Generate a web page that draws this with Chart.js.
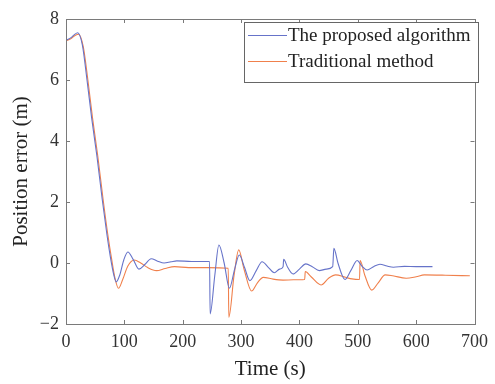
<!DOCTYPE html>
<html>
<head>
<meta charset="utf-8">
<script src="https://cdn.jsdelivr.net/npm/chart.js@4/dist/chart.umd.min.js"></script>
<style>
  body { margin: 0; background: #fff; }
</style>
</head>
<body>
<canvas id="errChart" width="495" height="384"></canvas>
<script>
// time samples (s) and position error (m)
const tProposed = [0, 8, 14, 20, 28, 36, 44, 53, 62, 70, 76, 82, 86, 92, 99, 106, 115, 125, 135, 146, 157, 168, 180, 190, 215, 246, 247, 255, 262, 271, 280, 289, 297, 306, 315, 326, 336, 347, 357, 366, 372, 373, 380, 389, 400, 411, 422, 434, 446, 457, 459, 466, 478, 488, 499, 507, 516, 527, 538, 550, 561, 580, 600, 628];
const yProposed = [7.3, 7.38, 7.48, 7.55, 7.15, 6.0, 4.75, 3.5, 2.1, 0.95, 0.2, -0.4, -0.62, -0.4, 0.1, 0.36, 0.12, -0.2, -0.05, 0.14, 0.06, 0.0, 0.04, 0.07, 0.05, 0.05, -1.67, -0.4, 0.59, 0.0, -0.83, -0.2, 0.26, -0.15, -0.58, -0.25, 0.04, -0.15, -0.32, -0.2, -0.12, 0.12, -0.15, -0.36, -0.2, -0.03, -0.12, -0.25, -0.2, -0.12, 0.48, 0.0, -0.54, -0.25, 0.08, -0.1, -0.23, -0.12, -0.04, -0.1, -0.14, -0.11, -0.12, -0.12];

const tTraditional = [0, 8, 15, 21.5, 29.5, 37.5, 45.5, 54.5, 63.5, 71.5, 78, 84, 90, 97, 106, 117, 128, 140, 155, 170, 186, 210, 242, 278, 279, 288, 296, 305, 318, 328, 338, 355, 372, 390, 409, 410, 420, 437, 450, 462, 479, 490, 503, 504, 512, 524, 535, 547, 560, 583, 600, 614, 650, 692];
const yTraditional = [7.28, 7.35, 7.45, 7.5, 7.1, 6.0, 4.75, 3.5, 2.1, 0.95, 0.15, -0.5, -0.83, -0.55, -0.1, 0.1, 0.0, -0.15, -0.25, -0.18, -0.12, -0.15, -0.15, -0.17, -1.78, -0.4, 0.43, -0.2, -0.92, -0.65, -0.47, -0.53, -0.56, -0.55, -0.54, -0.28, -0.45, -0.72, -0.5, -0.39, -0.47, -0.52, -0.54, 0.08, -0.4, -0.89, -0.65, -0.39, -0.42, -0.5, -0.45, -0.39, -0.4, -0.42];

const xTicks = [0, 100, 200, 300, 400, 500, 600, 700];
const yTicks = [-2, 0, 2, 4, 6, 8];

const seriesNames = ['The proposed algorithm', 'Traditional method'];
const seriesColors = ['#6673c9', '#f0804c'];

const serif = "'Liberation Serif', 'DejaVu Serif', serif";
const axisColor = '#7a7a7a';

const toPoints = (ts, ys) => ts.map((t, i) => ({ x: t, y: ys[i] }));

// box around the axes with inward ticks, matlab style
const framePlugin = {
    id: 'frame',
    afterDatasetsDraw(chart) {
        const { ctx, chartArea: a, scales } = chart;
        ctx.save();
        ctx.strokeStyle = axisColor;
        ctx.lineWidth = 1;
        ctx.strokeRect(Math.round(a.left) + 0.5, Math.round(a.top) + 0.5,
            Math.round(a.right - a.left), Math.round(a.bottom - a.top));
        ctx.beginPath();
        xTicks.forEach(v => {
            const px = Math.round(scales.x.getPixelForValue(v)) + 0.5;
            ctx.moveTo(px, a.bottom); ctx.lineTo(px, a.bottom - 4);
            ctx.moveTo(px, a.top); ctx.lineTo(px, a.top + 4);
        });
        yTicks.forEach(v => {
            const py = Math.round(scales.y.getPixelForValue(v)) + 0.5;
            ctx.moveTo(a.left, py); ctx.lineTo(a.left + 4, py);
            ctx.moveTo(a.right, py); ctx.lineTo(a.right - 4, py);
        });
        ctx.stroke();

        // legend in the upper right corner
        const bx = 244, by = 22, bw = 234, bh = 60;
        ctx.fillStyle = '#fff';
        ctx.fillRect(bx, by, bw, bh);
        ctx.strokeStyle = '#666';
        ctx.strokeRect(bx + 0.5, by + 0.5, bw, bh);
        ctx.font = '19px ' + serif;
        ctx.textBaseline = 'middle';
        ctx.fillStyle = '#222';
        chart.data.datasets.forEach((ds, i) => {
            const ly = by + 13 + i * 26;
            ctx.strokeStyle = ds.borderColor;
            ctx.beginPath();
            ctx.moveTo(bx + 4, ly + 0.5); ctx.lineTo(bx + 43, ly + 0.5);
            ctx.stroke();
            ctx.fillText(ds.label, bx + 44, ly + 1);
        });
        ctx.restore();
    }
};

new Chart(document.getElementById('errChart'), {
    type: 'line',
    data: {
        datasets: [
            {
                label: seriesNames[0],
                data: toPoints(tProposed, yProposed),
                borderColor: seriesColors[0],
                borderWidth: 1.1,
                pointRadius: 0,
                cubicInterpolationMode: 'monotone'
            },
            {
                label: seriesNames[1],
                data: toPoints(tTraditional, yTraditional),
                borderColor: seriesColors[1],
                borderWidth: 1.1,
                pointRadius: 0,
                cubicInterpolationMode: 'monotone'
            }
        ]
    },
    options: {
        responsive: false,
        animation: false,
        layout: { padding: { top: 19, right: 15, left: 0, bottom: 0 } },
        plugins: {
            legend: { display: false },
            tooltip: { enabled: false }
        },
        scales: {
            x: {
                type: 'linear',
                min: 0,
                max: 700,
                afterFit: s => { s.height = 60; },
                afterBuildTicks: s => { s.ticks = xTicks.map(v => ({ value: v })); },
                grid: { display: false, drawTicks: false },
                border: { display: false },
                ticks: { color: '#333', padding: 7, maxRotation: 0, font: { family: serif, size: 18 } },
                title: {
                    display: true,
                    text: 'Time (s)',
                    color: '#222',
                    font: { family: serif, size: 21, lineHeight: 1.2 },
                    padding: { top: 0, bottom: 2 }
                }
            },
            y: {
                min: -2,
                max: 8,
                afterFit: s => { s.width = 66; },
                afterBuildTicks: s => { s.ticks = yTicks.map(v => ({ value: v })); },
                grid: { display: false, drawTicks: false },
                border: { display: false },
                ticks: {
                    color: '#333',
                    padding: 7,
                    font: { family: serif, size: 18 },
                    callback: v => v < 0 ? '\u2212' + Math.abs(v) : String(v)
                },
                title: {
                    display: true,
                    text: 'Position error (m)',
                    color: '#222',
                    font: { family: serif, size: 21, lineHeight: 1.2 },
                    padding: { top: 9, bottom: 0 }
                }
            }
        }
    },
    plugins: [framePlugin]
});
</script>
</body>
</html>
